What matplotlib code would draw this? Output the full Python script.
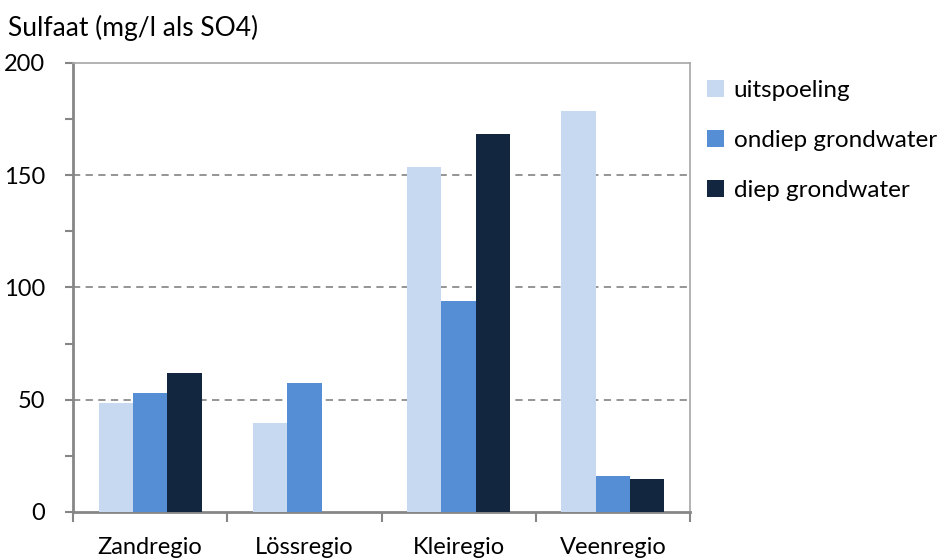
import matplotlib
matplotlib.use("Agg")
import matplotlib.pyplot as plt
import numpy as np
from matplotlib.patches import Patch

plt.rcParams['font.family'] = ['Lato', 'DejaVu Sans']

categories = ["Zandregio", "Lössregio", "Kleiregio", "Veenregio"]
series_names = ["uitspoeling", "ondiep grondwater", "diep grondwater"]
uitspoeling = [48.4, 39.5, 153.7, 178.4]
ondiep = [52.9, 57.3, 93.9, 16.2]
diep = [61.8, np.nan, 168.2, 14.5]
colors = ["#C6D9F1", "#558ED5", "#13263F"]

fig = plt.figure(figsize=(9.41, 5.6), dpi=100)
ax = fig.add_axes([73/941, 1-512/560, (690-73)/941, (512-63)/560])

x = np.arange(len(categories))
w = 1/4.5
for i, (vals, c) in enumerate(zip([uitspoeling, ondiep, diep], colors)):
    ax.bar(x + (i-1)*w, vals, width=w, color=c, zorder=3, linewidth=0)

ax.set_xlim(-0.5, len(categories)-0.5)
ax.set_ylim(0, 200)

# gridlines
for g in [50, 100, 150]:
    ax.axhline(g, color="#8C8C8C", linestyle=(0, (4, 3)), linewidth=1.3, zorder=1)

ax.set_yticks(np.arange(0, 201, 25))
ax.set_yticklabels([str(v) if v % 50 == 0 else "" for v in range(0, 201, 25)], fontsize=17)
ax.set_xticks(np.arange(-0.5, len(categories), 1))
ax.set_xticklabels([])
ax.set_xticks(x, minor=True)
ax.set_xticklabels(categories, minor=True, fontsize=17)
ax.tick_params(axis='x', which='minor', length=0, pad=18)
ax.tick_params(axis='x', which='major', length=7, width=1.5, color="#868686", direction='out')
ax.tick_params(axis='y', length=6, width=1.5, color="#868686", direction='out', pad=14)

for s in ['left', 'bottom']:
    ax.spines[s].set_color("#868686")
    ax.spines[s].set_linewidth(2)
for s in ['top', 'right']:
    ax.spines[s].set_color("#A6A6A6")
    ax.spines[s].set_linewidth(1.2)

fig.text(8/941, 1-28/560, "Sulfaat (mg/l als SO4)", fontsize=19, va='center', ha='left')

handles = [Patch(facecolor=c, edgecolor='none') for c in colors]
fig.legend(handles, series_names, loc='upper left', bbox_to_anchor=(702/941, 1-75/560),
           frameon=False, fontsize=17.5, handlelength=0.7, handleheight=0.7,
           handletextpad=0.4, labelspacing=1.2, borderaxespad=0, borderpad=0.2)

fig.savefig("out.png", dpi=100)
